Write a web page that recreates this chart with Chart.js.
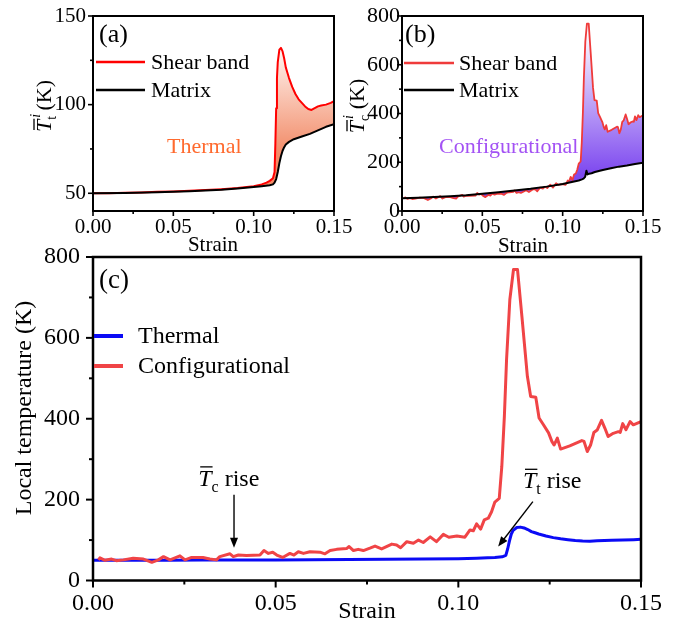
<!DOCTYPE html>
<html>
<head>
<meta charset="utf-8">
<script src="https://cdn.jsdelivr.net/npm/chart.js"></script>
<style>
  html, body { margin: 0; padding: 0; background: #fff; }
  #wrap { position: relative; width: 677px; height: 623px; overflow: hidden; }
  canvas { position: absolute; }
</style>
</head>
<body>
<div id="wrap">
  <canvas id="cA" width="362" height="257" style="left:0;top:0"></canvas>
  <canvas id="cB" width="339" height="257" style="left:338px;top:0"></canvas>
  <canvas id="cC" width="677" height="388" style="left:0;top:235px"></canvas>
</div>
<script>
// ─── DATA ───
// thermal temperature, shear band (panel a red, panel c blue)
var strainT = [0, 0.01, 0.02, 0.03, 0.04, 0.05, 0.06, 0.07, 0.08, 0.09,
  0.1, 0.105, 0.108, 0.11, 0.112, 0.113, 0.1135, 0.114, 0.1145, 0.115,
  0.116, 0.117, 0.118, 0.119, 0.12, 0.121, 0.122, 0.124, 0.126, 0.128,
  0.13, 0.132, 0.134, 0.136, 0.138, 0.14, 0.142, 0.145, 0.148, 0.15];
var shearT = [50, 50, 50.3, 50.5, 50.8, 51, 51.4, 51.8, 52.3, 53,
  54, 55, 56, 57, 58.5, 62, 78, 98, 115, 124,
  131, 132, 130, 126, 121, 118, 115, 110, 106, 103,
  101, 99, 97.5, 97, 98, 99, 99.5, 100, 101, 102];

// thermal temperature, matrix (panel a black)
var strainTm = [0, 0.02, 0.04, 0.06, 0.08, 0.09, 0.1, 0.105, 0.11, 0.112, 0.113, 0.114, 0.115,
  0.116, 0.117, 0.118, 0.119, 0.12, 0.122, 0.125, 0.13, 0.135, 0.14, 0.145, 0.15];
var matrixT = [50, 50.2, 50.6, 51.2, 52, 52.7, 53.5, 54, 54.5, 55, 56, 58, 62,
  67, 71, 74, 76, 77.5, 79, 80.5, 82, 83.5, 85.5, 87.5, 89];

// configurational temperature, shear band (panel b red, panel c red)
var strainC = [0.0015, 0.0019, 0.0033, 0.0051, 0.0064, 0.0083, 0.011, 0.0138, 0.0161, 0.0179,
  0.0193, 0.0211, 0.0238, 0.0252, 0.027, 0.0301, 0.032, 0.0338, 0.0347, 0.0375,
  0.0384, 0.0398, 0.042, 0.0457, 0.0468, 0.048, 0.0492, 0.0503, 0.0519, 0.0539,
  0.055, 0.0562, 0.0576, 0.0594, 0.0621, 0.0635, 0.0649, 0.0667, 0.0694, 0.0701,
  0.0713, 0.0726, 0.074, 0.0758, 0.0772, 0.079, 0.0818, 0.0831, 0.0842, 0.0859,
  0.0877, 0.0891, 0.0904, 0.0923, 0.094, 0.0959, 0.0974, 0.0996, 0.1018, 0.1032,
  0.1041, 0.105, 0.1061, 0.1071, 0.1082, 0.1091, 0.11, 0.1112, 0.1119, 0.1126,
  0.1132, 0.1141, 0.1151, 0.1162, 0.1174, 0.1189, 0.1198, 0.1212, 0.1221, 0.1233,
  0.1247, 0.1256, 0.1262, 0.1271, 0.128, 0.1305, 0.1338, 0.1344, 0.1353, 0.1362,
  0.1371, 0.138, 0.1392, 0.1401, 0.141, 0.1424, 0.1438, 0.1443, 0.145, 0.1459,
  0.147, 0.1479, 0.15];
var shearC = [51, 56, 50, 53, 49, 51, 55, 53, 45, 51,
  59, 51, 61, 51, 57, 57, 53, 51, 59, 66,
  59, 63, 62, 63, 74, 67, 70, 63, 57, 67,
  63, 71, 67, 71, 70, 66, 74, 77, 79, 84,
  74, 77, 74, 80, 85, 78, 90, 88, 81, 96,
  92, 100, 94, 108, 96, 114, 107, 110, 107, 125,
  123, 140, 127, 150, 154, 170, 194, 203, 282, 406,
  546, 695, 769, 769, 653, 505, 455, 453, 402, 385,
  365, 344, 335, 352, 325, 333, 346, 344, 319, 335,
  366, 372, 396, 377, 356, 364, 368, 366, 388, 373,
  393, 385, 393];

// configurational temperature, matrix (panel b black)
var strainCm = [0, 0.01, 0.02, 0.03, 0.04, 0.05, 0.06, 0.07, 0.08, 0.09,
  0.1, 0.105, 0.11, 0.112, 0.113, 0.114, 0.1148, 0.1155, 0.1165, 0.118,
  0.12, 0.125, 0.13, 0.135, 0.14, 0.145, 0.15];
var matrixC = [52, 54, 57, 61, 65, 71, 77, 84, 91, 100,
  111, 118, 125, 130, 133, 140, 165, 150, 153, 155,
  160, 168, 175, 182, 187, 193, 198];

// tick values
var strainTicks = [0, 0.025, 0.05, 0.075, 0.1, 0.125, 0.15];
var strainMajor = [0, 0.05, 0.1, 0.15];
var ticksA = [50, 75, 100, 125, 150];
var majorA = [50, 100, 150];
var ticksBC = [0, 100, 200, 300, 400, 500, 600, 700, 800];
var majorBC = [0, 200, 400, 600, 800];

var FONT = "'Liberation Serif', 'Times New Roman', serif";

function pts(xs, ys) {
  return xs.map(function(x, i) { return { x: x, y: ys[i] }; });
}
function isIn(v, arr) {
  return arr.some(function(m) { return Math.abs(m - v) < 1e-9; });
}

// ─── decoration config per canvas (frame, ticks, texts, legend) ───
var DECO = {};

function drawRich(ctx, x, y, parts) {
  var cx = x;
  parts.forEach(function(p) {
    ctx.font = p.font;
    var w = ctx.measureText(p.t).width;
    ctx.fillText(p.t, cx + (p.dx || 0), y + (p.dy || 0));
    if (p.bar) {
      ctx.save();
      ctx.lineWidth = 1.3;
      ctx.beginPath();
      ctx.moveTo(cx + 2, y - p.bar);
      ctx.lineTo(cx + w + 1, y - p.bar);
      ctx.stroke();
      ctx.restore();
    }
    if (p.stack) return;
    cx += w;
  });
  return cx - x;
}
function richWidth(ctx, parts) {
  var w = 0;
  parts.forEach(function(p) {
    ctx.font = p.font;
    if (!p.stack) w += ctx.measureText(p.t).width;
  });
  return w;
}

function arrow(ctx, x0, y0, x1, y1) {
  var a = Math.atan2(y1 - y0, x1 - x0), L = 10, W = 4;
  ctx.beginPath();
  ctx.moveTo(x0, y0);
  ctx.lineTo(x1 - Math.cos(a) * L * 0.8, y1 - Math.sin(a) * L * 0.8);
  ctx.stroke();
  ctx.beginPath();
  ctx.moveTo(x1, y1);
  ctx.lineTo(x1 - Math.cos(a) * L - Math.sin(a) * W, y1 - Math.sin(a) * L + Math.cos(a) * W);
  ctx.lineTo(x1 - Math.cos(a) * L + Math.sin(a) * W, y1 - Math.sin(a) * L - Math.cos(a) * W);
  ctx.closePath();
  ctx.fill();
}

var decoPlugin = {
  id: 'deco',
  afterDatasetsDraw: function(chart) {
    var d = DECO[chart.canvas.id];
    if (!d) return;
    var ctx = chart.ctx, ca = chart.chartArea, xs = chart.scales.x, ys = chart.scales.y;
    ctx.save();
    ctx.strokeStyle = '#000';
    ctx.fillStyle = '#000';
    // frame
    ctx.lineWidth = d.frame;
    ctx.strokeRect(ca.left, ca.top, ca.right - ca.left, ca.bottom - ca.top);
    // ticks, outward
    ctx.lineWidth = d.tickW;
    strainTicks.forEach(function(v) {
      var px = xs.getPixelForValue(v);
      var len = isIn(v, strainMajor) ? d.major : d.minor;
      ctx.beginPath(); ctx.moveTo(px, ca.bottom); ctx.lineTo(px, ca.bottom + len); ctx.stroke();
    });
    d.yTicks.forEach(function(v) {
      var py = ys.getPixelForValue(v);
      var len = isIn(v, d.yMajor) ? d.major : d.minor;
      ctx.beginPath(); ctx.moveTo(ca.left, py); ctx.lineTo(ca.left - len, py); ctx.stroke();
    });
    // legend from datasets
    var lg = d.legend;
    ctx.textBaseline = 'middle';
    ctx.textAlign = 'left';
    lg.order.forEach(function(idx, k) {
      var ds = chart.data.datasets[idx];
      var y = lg.y + k * lg.dy;
      ctx.strokeStyle = ds.borderColor;
      ctx.lineWidth = lg.lw;
      ctx.beginPath(); ctx.moveTo(lg.x, y); ctx.lineTo(lg.x + lg.len, y); ctx.stroke();
      ctx.fillStyle = '#000';
      ctx.font = lg.size + 'px ' + FONT;
      ctx.fillText(ds.label, lg.x + lg.len + lg.gap, y + 1);
    });
    // plain texts
    ctx.textBaseline = 'alphabetic';
    d.texts.forEach(function(t) {
      ctx.fillStyle = t.color || '#000';
      ctx.font = t.size + 'px ' + FONT;
      ctx.textAlign = t.align || 'left';
      if (t.rot) {
        ctx.save();
        ctx.translate(t.x, t.y);
        ctx.rotate(-Math.PI / 2);
        ctx.textAlign = 'center';
        ctx.fillText(t.text, 0, 0);
        ctx.restore();
      } else {
        ctx.fillText(t.text, t.x, t.y);
      }
    });
    ctx.textAlign = 'left';
    ctx.fillStyle = '#000';
    ctx.strokeStyle = '#000';
    // rotated rich y title
    if (d.yRich) {
      var r = d.yRich;
      ctx.save();
      ctx.translate(r.x, r.y);
      ctx.rotate(-Math.PI / 2);
      var w = richWidth(ctx, r.parts);
      drawRich(ctx, -w / 2, 0, r.parts);
      ctx.restore();
    }
    // annotations with arrows (placed in data coordinates)
    (d.notes || []).forEach(function(n) {
      ctx.lineWidth = 1.4;
      arrow(ctx, xs.getPixelForValue(n.from[0]), ys.getPixelForValue(n.from[1]),
        xs.getPixelForValue(n.to[0]), ys.getPixelForValue(n.to[1]));
      drawRich(ctx, xs.getPixelForValue(n.text[0]), ys.getPixelForValue(n.text[1]), n.parts);
    });
    ctx.restore();
  }
};

function xScaleOpts(H, box, size, pad) {
  return {
    type: 'linear', min: 0, max: 0.15,
    grid: { display: false, drawTicks: false },
    border: { display: false },
    afterBuildTicks: function(s) { s.ticks = strainTicks.map(function(v) { return { value: v }; }); },
    ticks: {
      font: { family: FONT, size: size }, color: '#000', padding: pad,
      maxRotation: 0, autoSkip: false,
      callback: function(v) { return isIn(v, strainMajor) ? v.toFixed(2) : ''; }
    },
    afterFit: function(s) { s.height = H - box.b; s.paddingLeft = 0; s.paddingRight = 0; }
  };
}
function yScaleOpts(box, min, max, tks, major, size, pad) {
  return {
    type: 'linear', min: min, max: max,
    grid: { display: false, drawTicks: false },
    border: { display: false },
    afterBuildTicks: function(s) { s.ticks = tks.map(function(v) { return { value: v }; }); },
    ticks: {
      font: { family: FONT, size: size }, color: '#000', padding: pad, autoSkip: false,
      callback: function(v) { return isIn(v, major) ? String(v) : ''; }
    },
    afterFit: function(s) { s.width = box.l; s.paddingTop = 0; s.paddingBottom = 0; }
  };
}
function gradFill(v0, c0, v1, c1) {
  return function(context) {
    var ch = context.chart;
    if (!ch.chartArea) return 'rgba(0,0,0,0)';
    var y = ch.scales.y;
    var g = ch.ctx.createLinearGradient(0, y.getPixelForValue(v0), 0, y.getPixelForValue(v1));
    g.addColorStop(0, c0);
    g.addColorStop(1, c1);
    return g;
  };
}
function baseOpts(W, H, box, scales) {
  return {
    responsive: false,
    animation: false,
    devicePixelRatio: 1,
    layout: { autoPadding: false, padding: { left: 0, top: box.t, right: W - box.r, bottom: 0 } },
    plugins: { legend: { display: false }, tooltip: { enabled: false } },
    elements: { point: { radius: 0 }, line: { tension: 0, borderJoinStyle: 'round' } },
    scales: scales
  };
}

function tBar(size, sub, subSize) {
  return [
    { t: 'T', font: 'italic ' + size + 'px ' + FONT, bar: Math.round(size * 0.78) },
    { t: sub, font: subSize + 'px ' + FONT, dy: Math.round(size * 0.25) }
  ];
}

// ─── Panel (a) ───
var boxA = { l: 93, t: 16, r: 334, b: 211 };
DECO.cA = {
  frame: 2, tickW: 1.6, major: 5, minor: 3, yTicks: ticksA, yMajor: majorA,
  legend: { x: 96, y: 62, dy: 28, len: 49, gap: 6, size: 22, lw: 2.5, order: [0, 1] },
  texts: [
    { text: '(a)', x: 99, y: 42, size: 26 },
    { text: 'Thermal', x: 167, y: 153, size: 22, color: '#ff6a2e' },
    { text: 'Strain', x: 213, y: 251, size: 21, align: 'center' }
  ],
  yRich: { x: 51, y: 106, parts: [
    { t: 'T', font: 'italic 22px ' + FONT, bar: 17 },
    { t: 'i', font: 'italic 14px ' + FONT, dx: 2, dy: -11, stack: true },
    { t: 't', font: '14px ' + FONT, dy: 5 },
    { t: ' (K)', font: '22px ' + FONT }
  ] }
};
new Chart(document.getElementById('cA'), {
  type: 'line',
  data: { datasets: [
    { label: 'Shear band', data: pts(strainT, shearT), borderColor: '#ff0000', borderWidth: 2,
      fill: '+1', backgroundColor: gradFill(132, '#fff6f3', 72, '#f28a66'), order: 1 },
    { label: 'Matrix', data: pts(strainTm, matrixT), borderColor: '#000000', borderWidth: 2,
      fill: false, order: 0 }
  ] },
  options: baseOpts(362, 257, boxA, {
    x: xScaleOpts(257, boxA, 21, 4),
    y: yScaleOpts(boxA, 40, 150, ticksA, majorA, 21, 7)
  }),
  plugins: [decoPlugin]
});

// ─── Panel (b) ───
var boxB = { l: 64, t: 16, r: 305, b: 211 };
DECO.cB = {
  frame: 2, tickW: 1.6, major: 5, minor: 3, yTicks: ticksBC, yMajor: majorBC,
  legend: { x: 66, y: 63, dy: 27, len: 50, gap: 5, size: 22, lw: 2.5, order: [0, 1] },
  texts: [
    { text: '(b)', x: 67, y: 42, size: 26 },
    { text: 'Configurational', x: 101, y: 153, size: 22, color: '#a352f4' },
    { text: 'Strain', x: 185, y: 252, size: 21, align: 'center' }
  ],
  yRich: { x: 26, y: 106, parts: [
    { t: 'T', font: 'italic 22px ' + FONT, bar: 17 },
    { t: 'i', font: 'italic 14px ' + FONT, dx: 2, dy: -11, stack: true },
    { t: 'c', font: '14px ' + FONT, dy: 5 },
    { t: ' (K)', font: '22px ' + FONT }
  ] }
};
new Chart(document.getElementById('cB'), {
  type: 'line',
  data: { datasets: [
    { label: 'Shear band', data: pts(strainC, shearC), borderColor: '#ef3b3b', borderWidth: 1.8,
      fill: '+1', backgroundColor: gradFill(720, '#fbf9ff', 150, '#7d48ef'), order: 1 },
    { label: 'Matrix', data: pts(strainCm, matrixC), borderColor: '#000000', borderWidth: 2,
      fill: false, order: 0 }
  ] },
  options: baseOpts(339, 257, boxB, {
    x: xScaleOpts(257, boxB, 21, 4),
    y: yScaleOpts(boxB, 0, 800, ticksBC, majorBC, 22, 2)
  }),
  plugins: [decoPlugin]
});

// ─── Panel (c) ───
var boxC = { l: 93, t: 22, r: 641, b: 345.5 };
DECO.cC = {
  frame: 2.5, tickW: 2, major: 7, minor: 4, yTicks: ticksBC, yMajor: majorBC,
  legend: { x: 94, y: 101, dy: 30, len: 29, gap: 15, size: 24, lw: 4, order: [1, 0] },
  texts: [
    { text: '(c)', x: 99, y: 53, size: 27 },
    { text: 'Strain', x: 367, y: 383, size: 24, align: 'center' },
    { text: 'Local temperature (K)', x: 31, y: 173, size: 24, rot: true }
  ],
  notes: [
    { from: [0.0386, 212], to: [0.0386, 81], text: [0.0288, 234],
      parts: tBar(24, 'c', 16).concat([{ t: ' rise', font: '24px ' + FONT }]) },
    { from: [0.1204, 195], to: [0.1109, 84], text: [0.1177, 228],
      parts: tBar(24, 't', 16).concat([{ t: ' rise', font: '24px ' + FONT }]) }
  ]
};
new Chart(document.getElementById('cC'), {
  type: 'line',
  data: { datasets: [
    { label: 'Configurational', data: pts(strainC, shearC), borderColor: '#f04446', borderWidth: 3,
      fill: false, order: 0 },
    { label: 'Thermal', data: pts(strainT, shearT), borderColor: '#0b0bf5', borderWidth: 3,
      fill: false, order: 1 }
  ] },
  options: baseOpts(677, 388, boxC, {
    x: xScaleOpts(388, boxC, 24, 9),
    y: yScaleOpts(boxC, 0, 800, ticksBC, majorBC, 24, 13)
  }),
  plugins: [decoPlugin]
});
</script>
</body>
</html>
